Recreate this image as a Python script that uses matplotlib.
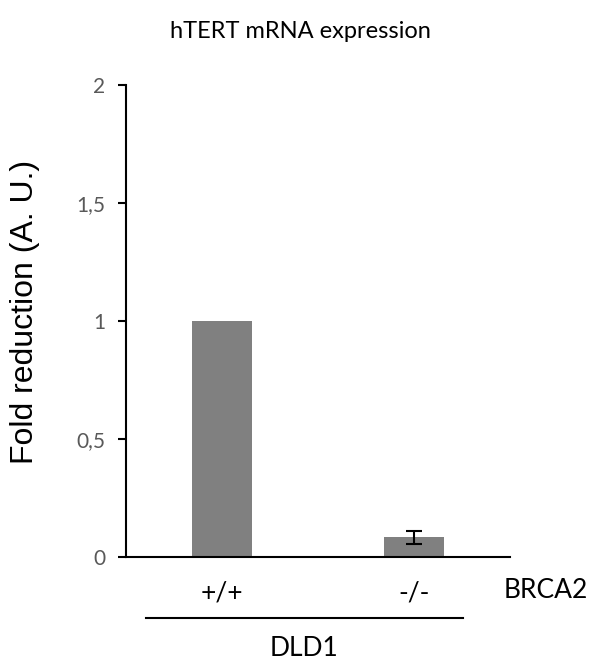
import matplotlib
matplotlib.use("Agg")
import matplotlib.pyplot as plt
from matplotlib.lines import Line2D

genotypes = ["+/+", "-/-"]
fold = [1.0, 0.083]
err = [0.0, 0.027]
yticks = [0, 0.5, 1, 1.5, 2]
ytick_labels = ["0", "0,5", "1", "1,5", "2"]

plt.rcParams["font.family"] = ["Lato", "DejaVu Sans"]

fig = plt.figure(figsize=(5.95, 6.59), dpi=100)
ax = fig.add_axes([0.2118, 0.1548, 0.645, 0.7162])

x = range(len(genotypes))
ax.bar(x, fold, width=0.3125, color="#808080")
ax.errorbar(x[1], fold[1], yerr=err[1], fmt="none", ecolor="black",
            elinewidth=1.5, capsize=6, capthick=1.5)

ax.set_xlim(-0.5, 1.5)
ax.set_ylim(0, 2)
ax.set_yticks(yticks)
ax.set_yticklabels(ytick_labels, color="#595959", fontsize=15)
ax.set_xticks(list(x))
ax.set_xticklabels(genotypes, fontsize=19)
ax.tick_params(axis="x", length=0, pad=17)
ax.tick_params(axis="y", length=6, width=1.5, direction="out", pad=9)

for s in ["top", "right"]:
    ax.spines[s].set_visible(False)
ax.spines["left"].set_linewidth(1.5)
ax.spines["bottom"].set_linewidth(1.5)

fig.text(25 / 595, 1 - 312 / 659, "Fold reduction (A. U.)", rotation=90,
         ha="center", va="center", fontsize=23, family="Liberation Sans")
fig.text(0.505, 1 - 32 / 659, "hTERT mRNA expression", ha="center", va="center", fontsize=17)
fig.text(546 / 595, 1 - 590 / 659, "BRCA2", ha="center", va="center", fontsize=19)
fig.add_artist(Line2D([146 / 595, 463 / 595], [1 - 618 / 659] * 2, color="black", lw=1.5))
fig.text(304 / 595, 1 - 648 / 659, "DLD1", ha="center", va="center", fontsize=19)

fig.savefig("out.png", dpi=100)
